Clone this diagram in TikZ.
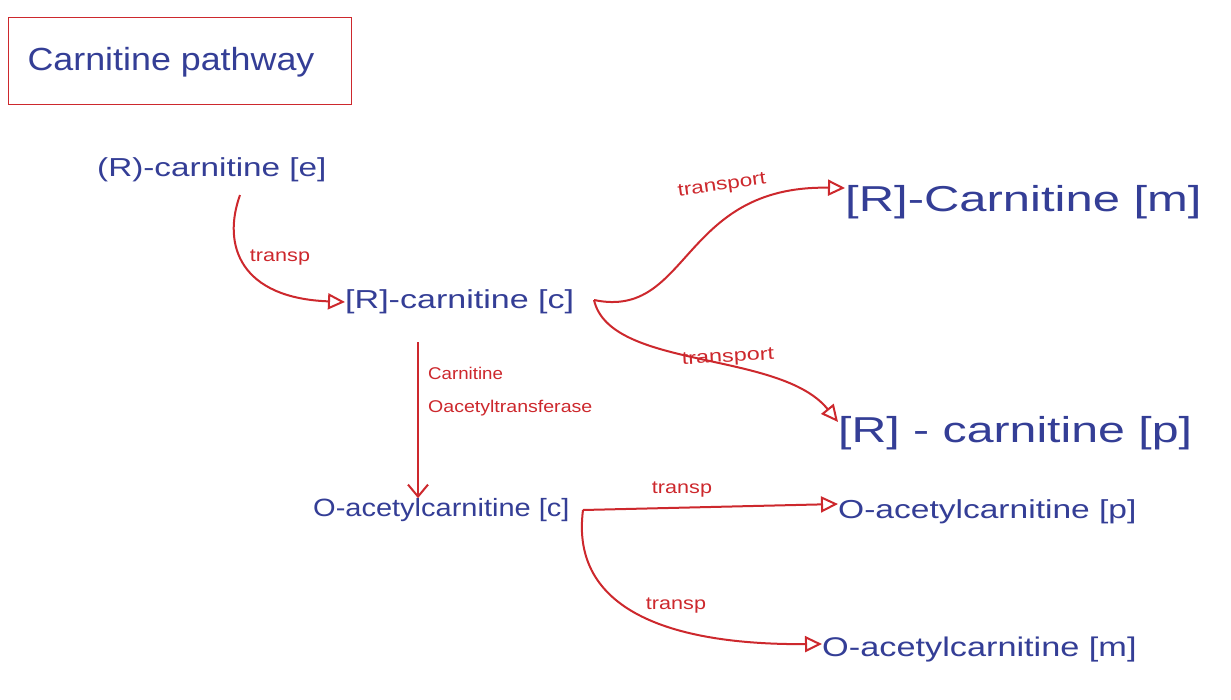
\documentclass[tikz,border=0pt]{standalone}
\usepackage{fontspec}
\setmainfont{Liberation Sans}
\usetikzlibrary{arrows.meta}
\definecolor{ink}{RGB}{52,62,150}
\definecolor{pen}{RGB}{205,40,45}
\newcommand{\hw}[2]{\scalebox{#1}[1]{#2}}
\begin{document}
\begin{tikzpicture}[x=1pt,y=-1pt,
  met/.style={text=ink,inner sep=0pt,anchor=west},
  lbl/.style={text=pen,inner sep=0pt,font=\fontsize{18}{20}\selectfont},
  rxn/.style={draw=pen,line width=2pt,-{Triangle[open,length=17pt,width=16pt,fill=white,line width=2pt]}},
  rxnv/.style={draw=pen,line width=2pt,-{Straight Barb[length=12pt,width=20pt,line width=2pt]}}]
\useasboundingbox (0,0) rectangle (1231,699);
\fill[white] (0,0) rectangle (1231,699);
% title
\node[draw=pen,line width=1pt,minimum width=343pt,minimum height=87pt,anchor=north west,inner sep=0pt] (title) at (8,17) {};
\node[text=ink,font=\fontsize{32}{36}\selectfont] (tt) at (171,62) {\hw{1.12}{Carnitine pathway}};
% metabolites
\node[met,font=\fontsize{26}{30}\selectfont] (e) at (97,170) {\hw{1.28}{(R)-carnitine [e]}};
\node[met,font=\fontsize{26}{30}\selectfont] (c) at (345,302) {\hw{1.31}{[R]-carnitine [c]}};
\node[met,font=\fontsize{36}{40}\selectfont] (m) at (845,202) {\hw{1.36}{[R]-Carnitine [m]}};
\node[met,font=\fontsize{36}{40}\selectfont] (p) at (838,433) {\hw{1.34}{[R] - carnitine [p]}};
\node[met,font=\fontsize{25}{29}\selectfont] (ac) at (313,510) {\hw{1.16}{O-acetylcarnitine [c]}};
\node[met,font=\fontsize{26}{30}\selectfont] (acp) at (838,512) {\hw{1.29}{O-acetylcarnitine [p]}};
\node[met,font=\fontsize{27}{31}\selectfont] (acm) at (822,650) {\hw{1.27}{O-acetylcarnitine [m]}};
% connectors
\coordinate (es) at (240,195);
\coordinate (cs) at (594,300);
\coordinate (acs) at (583,510);
\coordinate (vs) at (418,342);
\draw[rxn] (es) .. controls (222,245) and (240,298) .. (c.west);
\node[lbl] (l1) at (280,258) {\hw{1.2}{transp}};
\draw[rxnv] (vs) -- (vs |- ac.north);
\node[lbl,align=left,anchor=west,font=\fontsize{17}{33}\selectfont] (l2) at (428,392) {\hw{1.1}{Carnitine}\\\hw{1.15}{Oacetyltransferase}};
\draw[rxn] (cs) .. controls (690,320) and (680,185) .. ([yshift=14pt]m.west);
\node[lbl,rotate=8] (l3) at (722,186) {\hw{1.25}{transport}};
\draw[rxn] (cs) .. controls (610,370) and (780,350) .. ([yshift=11pt]p.west);
\node[lbl,rotate=3] (l4) at (728,358) {\hw{1.3}{transport}};
\draw[rxn] (acs) -- ([yshift=8pt]acp.west);
\node[lbl] (l5) at (682,490) {\hw{1.2}{transp}};
\draw[rxn] (acs) .. controls (570,610) and (670,645) .. ([yshift=6pt]acm.west);
\node[lbl] (l6) at (676,606) {\hw{1.2}{transp}};
\end{tikzpicture}
\end{document}
